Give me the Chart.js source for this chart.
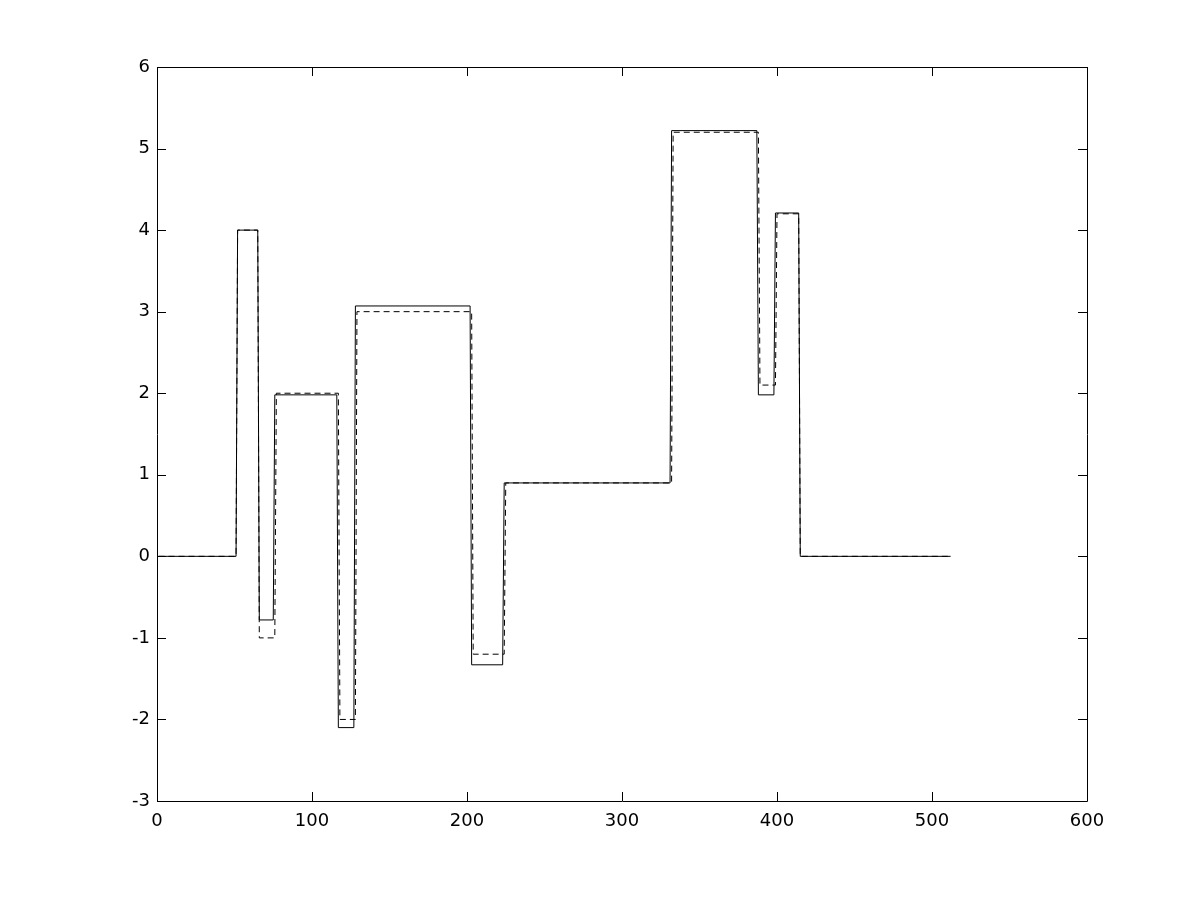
<!DOCTYPE html>
<html>
<head>
<meta charset="utf-8">
<script src="https://cdn.jsdelivr.net/npm/chart.js@4/dist/chart.umd.min.js"></script>
<style>
  html, body { margin: 0; padding: 0; background: #fff; }
  canvas { display: block; }
</style>
</head>
<body>
<canvas id="plot" width="1201" height="901"></canvas>
<script>
// ===== DATA =====
const xStart = 1;
const xEnd = 512;
// sample index where each step begins (value changes on the next sample)
const solidEdges = [51, 65, 75, 116, 127, 202, 223, 331, 387, 398, 414];
const solidLevels = [4, -0.78, 1.98, -2.1, 3.07, -1.33, 0.9, 5.22, 1.98, 4.21, 0];
const dashedEdges = [51, 65, 76, 117, 128, 203, 224, 332, 388, 399, 414];
const dashedLevels = [4, -1, 2, -2, 3, -1.2, 0.9, 5.2, 2.1, 4.2, 0];
const xTicks = [0, 100, 200, 300, 400, 500, 600];
const yTicks = [-3, -2, -1, 0, 1, 2, 3, 4, 5, 6];

// build step polyline from edges + levels
function stepPoints(edges, levels) {
  const pts = [{ x: xStart, y: 0 }];
  let prev = 0;
  edges.forEach((e, i) => {
    pts.push({ x: e, y: prev });
    pts.push({ x: e + 1, y: levels[i] });
    prev = levels[i];
  });
  pts.push({ x: xEnd, y: prev });
  return pts;
}

// ===== INWARD TICKS + BOX (matlab style) =====
const boxTicks = {
  id: 'boxTicks',
  afterDraw(chart) {
    const { ctx, chartArea: a, scales } = chart;
    const len = 9;
    ctx.save();
    ctx.strokeStyle = '#000';
    ctx.lineWidth = 1;
    ctx.beginPath();
    ctx.rect(a.left + 0.5, a.top + 0.5, a.right - a.left, a.bottom - a.top);
    scales.x.ticks.forEach(t => {
      const px = Math.round(scales.x.getPixelForValue(t.value)) + 0.5;
      ctx.moveTo(px, a.bottom); ctx.lineTo(px, a.bottom - len);
      ctx.moveTo(px, a.top); ctx.lineTo(px, a.top + len);
    });
    scales.y.ticks.forEach(t => {
      const py = Math.round(scales.y.getPixelForValue(t.value)) + 0.5;
      ctx.moveTo(a.left, py); ctx.lineTo(a.left + len, py);
      ctx.moveTo(a.right, py); ctx.lineTo(a.right - len, py);
    });
    ctx.stroke();
    ctx.restore();
  }
};

const font = { family: '"DejaVu Sans", Arial, sans-serif', size: 18 };

new Chart(document.getElementById('plot').getContext('2d'), {
  type: 'line',
  data: {
    datasets: [
      {
        label: 'estimate',
        data: stepPoints(solidEdges, solidLevels),
        borderColor: '#000',
        borderWidth: 1,
        pointRadius: 0,
        tension: 0,
        fill: false
      },
      {
        label: 'original',
        data: stepPoints(dashedEdges, dashedLevels),
        borderColor: '#000',
        borderWidth: 1,
        borderDash: [6, 4],
        pointRadius: 0,
        tension: 0,
        fill: false
      }
    ]
  },
  options: {
    responsive: false,
    animation: false,
    layout: { padding: { left: 0, top: 67, right: 114, bottom: 0 } },
    plugins: { legend: { display: false }, tooltip: { enabled: false } },
    scales: {
      x: {
        type: 'linear',
        min: 0, max: 600,
        afterBuildTicks: s => { s.ticks = xTicks.map(v => ({ value: v })); },
        afterFit: s => { s.height = 100; },
        grid: { display: false, drawTicks: false },
        border: { display: false },
        ticks: { color: '#000', font, padding: 10, maxRotation: 0 }
      },
      y: {
        min: -3, max: 6,
        afterBuildTicks: s => { s.ticks = yTicks.map(v => ({ value: v })); },
        afterFit: s => { s.width = 157; },
        grid: { display: false, drawTicks: false },
        border: { display: false },
        ticks: { color: '#000', font, padding: 7 }
      }
    }
  },
  plugins: [boxTicks]
});
</script>
</body>
</html>
